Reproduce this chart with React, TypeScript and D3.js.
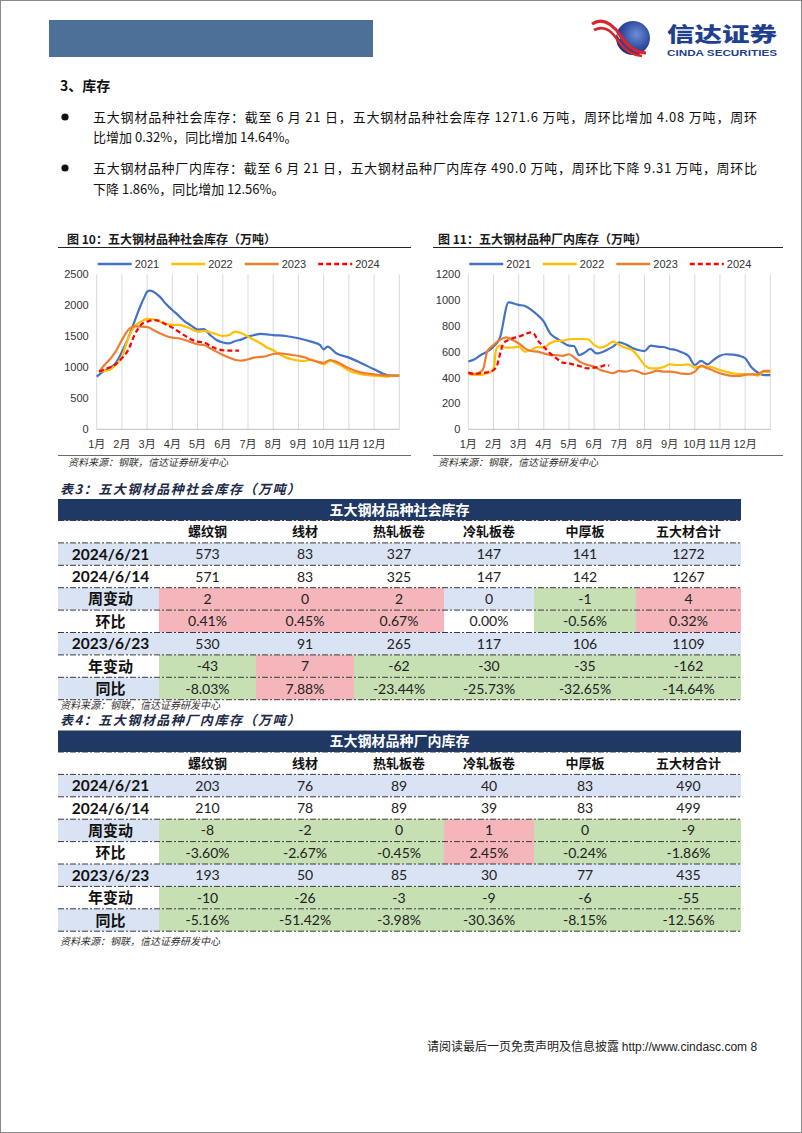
import React from 'react';
import * as d3 from 'd3';

// ---------- data ----------
const monthLabels = ['1月', '2月', '3月', '4月', '5月', '6月', '7月', '8月', '9月', '10月', '11月', '12月'];
const yearNames = ['2021', '2022', '2023', '2024'];
const socTicks = [0, 500, 1000, 1500, 2000, 2500];
const facTicks = [0, 200, 400, 600, 800, 1000, 1200];

// [month position (0 = Jan 1, 12 = year end), value 万吨]
const soc2021 = [[0, 850], [0.25, 930], [0.5, 985], [0.75, 1065], [1, 1250], [1.25, 1470], [1.5, 1740], [1.75, 2005], [1.9, 2140], [2, 2220], [2.1, 2236], [2.25, 2220], [2.5, 2140], [2.75, 2020], [3, 1925], [3.25, 1833], [3.5, 1737], [3.75, 1672], [4, 1610], [4.25, 1615], [4.5, 1520], [4.75, 1440], [5, 1400], [5.25, 1387], [5.5, 1425], [5.75, 1450], [6, 1495], [6.25, 1520], [6.5, 1538], [6.75, 1532], [7, 1520], [7.5, 1505], [8, 1468], [8.5, 1414], [8.85, 1360], [9, 1290], [9.15, 1333], [9.5, 1226], [10, 1156], [10.5, 1065], [11, 968], [11.5, 876], [11.75, 866], [12, 866]];
const soc2022 = [[0.1, 930], [0.5, 957], [0.75, 1037], [1, 1172], [1.25, 1470], [1.5, 1656], [1.75, 1737], [2, 1780], [2.25, 1775], [2.5, 1737], [2.75, 1700], [3, 1683], [3.25, 1683], [3.5, 1660], [3.75, 1620], [4, 1575], [4.25, 1586], [4.5, 1565], [4.75, 1532], [5, 1505], [5.25, 1520], [5.5, 1575], [5.75, 1548], [6, 1495], [6.25, 1440], [6.5, 1387], [6.75, 1320], [7, 1275], [7.25, 1210], [7.5, 1160], [7.75, 1129], [8, 1107], [8.25, 1102], [8.5, 1124], [8.75, 1091], [9, 1048], [9.25, 1102], [9.5, 1065], [9.75, 1011], [10, 946], [10.5, 887], [11, 866], [11.5, 850], [11.75, 866], [12, 866]];
const soc2023 = [[0.1, 930], [0.25, 1011], [0.5, 1118], [0.75, 1253], [1, 1441], [1.25, 1600], [1.5, 1660], [1.75, 1656], [2, 1650], [2.25, 1602], [2.5, 1548], [2.75, 1505], [3, 1478], [3.25, 1468], [3.5, 1441], [3.75, 1403], [4, 1371], [4.25, 1360], [4.5, 1306], [4.75, 1253], [5, 1199], [5.25, 1156], [5.5, 1118], [5.75, 1107], [6, 1129], [6.25, 1156], [6.5, 1167], [6.75, 1183], [7, 1215], [7.25, 1226], [7.5, 1215], [7.75, 1199], [8, 1183], [8.25, 1160], [8.5, 1118], [8.75, 1091], [9, 1070], [9.25, 1118], [9.5, 1091], [9.75, 1038], [10, 984], [10.5, 914], [11, 887], [11.5, 866], [12, 866]];
const soc2024 = [[0.1, 930], [0.25, 957], [0.5, 995], [0.75, 1048], [1, 1145], [1.25, 1280], [1.5, 1521], [1.75, 1683], [2, 1737], [2.25, 1760], [2.5, 1747], [2.75, 1690], [3, 1640], [3.25, 1575], [3.5, 1510], [3.75, 1450], [4, 1415], [4.25, 1400], [4.5, 1350], [4.75, 1300], [5, 1275], [5.25, 1270], [5.64, 1268]];

const fac2021 = [[0, 525], [0.25, 542], [0.5, 575], [0.75, 601], [1, 640], [1.25, 705], [1.6, 983], [2, 963], [2.25, 955], [2.5, 924], [2.75, 885], [3, 833], [3.25, 743], [3.5, 705], [3.75, 673], [4, 648], [4.2, 645], [4.4, 575], [4.6, 590], [4.85, 622], [5.1, 588], [5.5, 614], [5.75, 640], [6, 673], [6.25, 658], [6.5, 632], [6.75, 614], [7, 606], [7.25, 648], [7.5, 640], [7.75, 637], [8, 622], [8.25, 614], [8.5, 594], [8.75, 568], [9, 498], [9.25, 529], [9.5, 503], [9.75, 537], [10, 570], [10.25, 581], [10.5, 578], [10.75, 570], [11, 550], [11.25, 480], [11.5, 440], [11.75, 420], [12, 420]];
const fac2022 = [[0, 428], [0.25, 421], [0.5, 421], [0.75, 434], [1, 460], [1.1, 614], [1.25, 648], [1.5, 632], [1.75, 632], [2, 640], [2.25, 601], [2.5, 614], [2.75, 637], [3, 632], [3.25, 666], [3.5, 684], [3.75, 686], [4, 697], [4.25, 699], [4.5, 699], [4.75, 697], [5, 653], [5.25, 632], [5.5, 648], [5.75, 679], [6, 653], [6.25, 632], [6.5, 614], [6.75, 563], [7, 498], [7.25, 472], [7.5, 472], [7.75, 480], [8, 503], [8.25, 498], [8.5, 498], [8.75, 503], [9, 477], [9.25, 485], [9.5, 485], [9.75, 477], [10, 459], [10.25, 446], [10.5, 434], [10.75, 428], [11, 428], [11.25, 426], [11.5, 415], [11.75, 446], [12, 439]];
const fac2023 = [[0, 439], [0.25, 428], [0.5, 446], [0.6, 472], [0.75, 601], [1, 653], [1.25, 692], [1.5, 712], [1.75, 692], [2, 666], [2.25, 627], [2.5, 606], [2.75, 601], [3, 588], [3.25, 575], [3.5, 575], [3.75, 568], [4, 581], [4.25, 550], [4.5, 516], [4.75, 498], [5, 485], [5.25, 459], [5.5, 446], [5.75, 434], [6, 452], [6.25, 446], [6.5, 457], [6.75, 446], [7, 428], [7.25, 439], [7.5, 454], [7.75, 446], [8, 446], [8.25, 441], [8.5, 431], [8.75, 428], [9, 446], [9.25, 493], [9.5, 472], [9.75, 454], [10, 434], [10.25, 421], [10.5, 413], [10.75, 413], [11, 421], [11.25, 426], [11.5, 426], [11.75, 452], [12, 452]];
const fac2024 = [[0, 439], [0.25, 428], [0.5, 434], [0.75, 441], [1, 459], [1.15, 498], [1.25, 575], [1.4, 666], [1.6, 692], [1.75, 704], [2, 717], [2.25, 735], [2.5, 751], [2.6, 743], [2.75, 692], [3, 640], [3.25, 588], [3.5, 550], [3.75, 516], [4, 511], [4.25, 498], [4.5, 485], [4.75, 472], [5, 477], [5.25, 485], [5.5, 498], [5.6, 493]];

const tableCols = ['螺纹钢', '线材', '热轧板卷', '冷轧板卷', '中厚板', '五大材合计'];
const rowLabels = ['2024/6/21', '2024/6/14', '周变动', '环比', '2023/6/23', '年变动', '同比'];

const soc20240621 = [573, 83, 327, 147, 141, 1272];
const soc20240614 = [571, 83, 325, 147, 142, 1267];
const socWeekChg = [2, 0, 2, 0, -1, 4];
const socWoW = ['0.41%', '0.45%', '0.67%', '0.00%', '-0.56%', '0.32%'];
const soc20230623 = [530, 91, 265, 117, 106, 1109];
const socYearChg = [-43, 7, -62, -30, -35, -162];
const socYoY = ['-8.03%', '7.88%', '-23.44%', '-25.73%', '-32.65%', '-14.64%'];

const fac20240621 = [203, 76, 89, 40, 83, 490];
const fac20240614 = [210, 78, 89, 39, 83, 499];
const facWeekChg = [-8, -2, 0, 1, 0, -9];
const facWoW = ['-3.60%', '-2.67%', '-0.45%', '2.45%', '-0.24%', '-1.86%'];
const fac20230623 = [193, 50, 85, 30, 77, 435];
const facYearChg = [-10, -26, -3, -9, -6, -55];
const facYoY = ['-5.16%', '-51.42%', '-3.98%', '-30.36%', '-8.15%', '-12.56%'];

// ---------- styles ----------
const CJK = '"Noto Sans CJK SC", "Noto Sans", sans-serif';
const AX = '"Liberation Sans", Arial, "Noto Sans CJK SC", sans-serif';
const NUM = 'Lato, "Noto Sans CJK SC", sans-serif';
const yearColors = ['#4472C4', '#FFC000', '#ED7D31', '#FF0000'];
const BLUE_ROW = '#DAE3F3';
const PINK = '#F4B6BA';
const GREEN = '#C6E0B4';
const NAVY = '#1F3864';

type Pt = number[];

function TrendChart(props: {
  title: string; titleX: number; ruleX0: number; ruleX1: number; plotL: number; plotR: number;
  yMax: number; ticks: number[]; series: Pt[][]; sourceX: number;
}) {
  const { title, titleX, ruleX0, ruleX1, plotL, plotR, yMax, ticks, series, sourceX } = props;
  const top = 274.3, bottom = 429.3;
  const x = d3.scaleLinear().domain([0, 12]).range([plotL, plotR]);
  const y = d3.scaleLinear().domain([0, yMax]).range([bottom, top]);
  const line = d3.line<Pt>().x(d => x(d[0])).y(d => y(d[1])).curve(d3.curveMonotoneX);
  return (
    <g>
      <text x={titleX} y={243.5} fontFamily={CJK} fontWeight={700} fontSize={12} fill="#1a1a1a">{title}</text>
      <line x1={ruleX0} x2={ruleX1} y1={247.5} y2={247.5} stroke="#222" strokeWidth={1} />
      {d3.range(0, 13).map(i => (
        <line key={'g' + i} x1={x(i)} x2={x(i)} y1={top} y2={bottom} stroke="#d9d9d9" strokeWidth={1} />
      ))}
      <line x1={plotL} x2={plotR} y1={bottom} y2={bottom} stroke="#bfbfbf" strokeWidth={1} />
      {ticks.map(t => (
        <text key={'t' + t} x={plotL - 8} y={y(t) + 4} textAnchor="end" fontFamily={AX} fontSize={11} fill="#333">{t}</text>
      ))}
      {monthLabels.map((m, i) => (
        <text key={'m' + i} x={x(i)} y={448} textAnchor="middle" fontFamily={AX} fontSize={11} fill="#333">{m}</text>
      ))}
      {series.map((s, i) => (
        <path key={'s' + i} d={line(s) || ''} fill="none" stroke={yearColors[i]} strokeWidth={2.2}
          strokeDasharray={i === 3 ? '5,3' : undefined} strokeLinejoin="round" />
      ))}
      {yearNames.map((n, i) => {
        const lx = plotL + 1 + i * 73.5;
        return (
          <g key={'l' + i}>
            <line x1={lx} x2={lx + 34} y1={264} y2={264} stroke={yearColors[i]} strokeWidth={2.5}
              strokeDasharray={i === 3 ? '5,3' : undefined} />
            <text x={lx + 37} y={268} fontFamily={AX} fontSize={11} fill="#333">{n}</text>
          </g>
        );
      })}
      <line x1={ruleX0} x2={ruleX1} y1={455.5} y2={455.5} stroke="#444" strokeWidth={0.8} />
      <text x={sourceX} y={466} fontFamily={CJK} fontStyle="italic" fontSize={10} fill="#333">资料来源：钢联，信达证券研发中心</text>
    </g>
  );
}

const colX = [58, 159, 256, 354, 444, 534, 636, 741];

function toneOf(pct: string) {
  const v = parseFloat(pct);
  return v > 0 ? 'up' : v < 0 ? 'down' : 'flat';
}

function DataTable(props: {
  caption: string; heading: string; top: number; captionY: number; sourceY: number;
  r1: number[]; r2: number[]; wk: number[]; wow: string[]; r3: number[]; yr: number[]; yoy: string[];
}) {
  const { caption, heading, top, captionY, sourceY, r1, r2, wk, wow, r3, yr, yoy } = props;
  const barH = 21.5, rowH = 22.4;
  const rowsTop = top + barH;
  const rows: (string | number)[][] = [tableCols, r1, r2, wk, wow, r3, yr, yoy];
  const rowBase = (r: number) => (r === 1 || r === 3 || r === 5 || r === 7) ? BLUE_ROW : '#ffffff';
  const fillFor = (r: number, c: number) => {
    if (r === 1 || r === 5) return BLUE_ROW;
    if (r === 3 || r === 4) {
      const t = toneOf(wow[c]);
      return t === 'up' ? PINK : t === 'down' ? GREEN : rowBase(r);
    }
    if (r === 6 || r === 7) {
      const t = toneOf(yoy[c]);
      return t === 'up' ? PINK : t === 'down' ? GREEN : rowBase(r);
    }
    return '#ffffff';
  };
  const cx = (c: number) => (colX[c + 1] + colX[c + 2]) / 2;
  const labelCx = (colX[0] + colX[1]) / 2 + 2;
  return (
    <g>
      <text x={60} y={captionY + 4.5} fontFamily={CJK} fontStyle="italic" fontWeight={700} fontSize={13} fill="#1c2a48" textLength={240} lengthAdjust="spacing">{caption}</text>
      <rect x={colX[0]} y={top} width={colX[7] - colX[0]} height={barH} fill={NAVY} />
      <text x={(colX[0] + colX[7]) / 2} y={top + barH / 2 + 5} textAnchor="middle" fontFamily={CJK} fontWeight={700} fontSize={14} fill="#fff">{heading}</text>
      {rows.map((row, r) => {
        const y0 = rowsTop + r * rowH;
        return (
          <g key={'r' + r}>
            {r > 0 && <rect x={colX[0]} y={y0} width={colX[1] - colX[0]} height={rowH} fill={rowBase(r)} />}
            {row.map((v, c) => (
              <rect key={'c' + c} x={colX[c + 1]} y={y0} width={colX[c + 2] - colX[c + 1]} height={rowH} fill={r === 0 ? '#fff' : fillFor(r, c)} />
            ))}
          </g>
        );
      })}
      {d3.range(0, rows.length + 1).map(i => (
        <line key={'h' + i} x1={colX[0]} x2={colX[7]} y1={rowsTop + i * rowH} y2={rowsTop + i * rowH}
          stroke="#3a3a3a" strokeWidth={1} strokeDasharray="6,2,2,2" />
      ))}
      {rows.map((row, r) => {
        const yc = rowsTop + r * rowH + rowH / 2;
        return (
          <g key={'t' + r}>
            {r > 0 && (
              /\d/.test(rowLabels[r - 1])
                ? <text x={labelCx} y={yc + 5.5} textAnchor="middle" fontFamily={NUM} fontWeight={700} fontSize={15.5} fill="#111">{rowLabels[r - 1]}</text>
                : <text x={labelCx} y={yc + 5.5} textAnchor="middle" fontFamily={CJK} fontWeight={700} fontSize={15} fill="#111">{rowLabels[r - 1]}</text>
            )}
            {row.map((v, c) => (
              r === 0
                ? <text key={'v' + c} x={cx(c)} y={yc + 4.5} textAnchor="middle" fontFamily={CJK} fontWeight={700} fontSize={13} fill="#111">{v}</text>
                : <text key={'v' + c} x={cx(c)} y={yc + 5} textAnchor="middle" fontFamily={NUM} fontSize={14} fill="#222">{v}</text>
            ))}
          </g>
        );
      })}
      <text x={60} y={sourceY + 3} fontFamily={CJK} fontStyle="italic" fontSize={10} fill="#333">资料来源：钢联，信达证券研发中心</text>
    </g>
  );
}

export default function App() {
  return (
    <svg width={802} height={1133} viewBox="0 0 802 1133" style={{ position: 'absolute', left: 0, top: 0, background: '#fff' }}>
      <rect x={0} y={0} width={802} height={1133} fill="#fff" />
      <rect x={0.5} y={0.5} width={801} height={1132} fill="none" stroke="#8a8a8a" strokeWidth={1} />

      {/* header */}
      <rect x={49} y={20} width={324} height={37} fill="#4D7099" />
      <defs>
        <radialGradient id="sph" cx="0.6" cy="0.4" r="0.7">
          <stop offset="0" stopColor="#6d8fd6" />
          <stop offset="0.6" stopColor="#2f4aa0" />
          <stop offset="1" stopColor="#1a2a70" />
        </radialGradient>
      </defs>
      <circle cx={633} cy={38} r={17} fill="url(#sph)" />
      <path d="M592,24 C604,16 614,26 621,36 C627,45 633,52 646,53" fill="none" stroke="#d9252b" strokeWidth={3.2} />
      <path d="M594,30 C606,24 613,33 619,42 C624,49 631,55 642,56" fill="none" stroke="#d9252b" strokeWidth={2.6} />
      <path d="M593,27 C605,20 614,29 620,39" fill="none" stroke="#fff" strokeWidth={0.8} />
      <text x={667} y={42} fontFamily={CJK} fontWeight={900} fontSize={20} fill="#1f3f8f" textLength={110} lengthAdjust="spacingAndGlyphs">信达证券</text>
      <text x={667} y={56} fontFamily={AX} fontWeight={700} fontSize={9.5} fill="#1f3f8f" textLength={110} lengthAdjust="spacingAndGlyphs">CINDA SECURITIES</text>

      {/* body text */}
      <text x={60} y={91} fontFamily={CJK} fontWeight={700} fontSize={14} fill="#111">3、库存</text>
      <circle cx={65} cy={117} r={3.6} fill="#111" />
      <text x={93} y={121.5} fontFamily={CJK} fontSize={13} fill="#111" textLength={664} lengthAdjust="spacing">五大钢材品种社会库存：截至 6 月 21 日，五大钢材品种社会库存 1271.6 万吨，周环比增加 4.08 万吨，周环</text>
      <text x={93} y={142} fontFamily={CJK} fontSize={13} fill="#111">比增加 0.32%，同比增加 14.64%。</text>
      <circle cx={65} cy={168} r={3.6} fill="#111" />
      <text x={93} y={172.5} fontFamily={CJK} fontSize={13} fill="#111" textLength={664} lengthAdjust="spacing">五大钢材品种厂内库存：截至 6 月 21 日，五大钢材品种厂内库存 490.0 万吨，周环比下降 9.31 万吨，周环比</text>
      <text x={93} y={193.5} fontFamily={CJK} fontSize={13} fill="#111">下降 1.86%，同比增加 12.56%。</text>

      <TrendChart title="图 10：五大钢材品种社会库存（万吨）" titleX={67} ruleX0={58} ruleX1={411}
        plotL={96.7} plotR={399.3} yMax={2500} ticks={socTicks}
        series={[soc2021, soc2022, soc2023, soc2024]} sourceX={68} />
      <TrendChart title="图 11：五大钢材品种厂内库存（万吨）" titleX={438} ruleX0={433} ruleX1={783}
        plotL={468.3} plotR={770.3} yMax={1200} ticks={facTicks}
        series={[fac2021, fac2022, fac2023, fac2024]} sourceX={438} />

      <DataTable caption="表3：五大钢材品种社会库存（万吨）" heading="五大钢材品种社会库存" top={499} captionY={489} sourceY={706}
        r1={soc20240621} r2={soc20240614} wk={socWeekChg} wow={socWoW} r3={soc20230623} yr={socYearChg} yoy={socYoY} />
      <DataTable caption="表4：五大钢材品种厂内库存（万吨）" heading="五大钢材品种厂内库存" top={730.5} captionY={720.5} sourceY={942}
        r1={fac20240621} r2={fac20240614} wk={facWeekChg} wow={facWoW} r3={fac20230623} yr={facYearChg} yoy={facYoY} />

      <text x={427} y={1051} fontFamily={CJK} fontSize={12} fill="#222">请阅读最后一页免责声明及信息披露 <tspan fontFamily={AX}>http://www.cindasc.com  8</tspan></text>
    </svg>
  );
}
